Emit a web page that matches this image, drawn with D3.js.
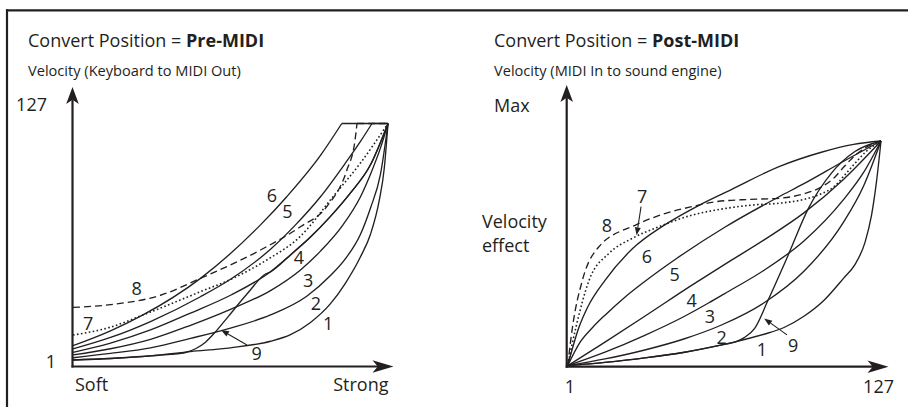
<!DOCTYPE html>
<html><head><meta charset="utf-8">
<script src="https://cdn.jsdelivr.net/npm/d3@7/dist/d3.min.js"></script>
<style>
html,body{margin:0;padding:0;background:#fff;}
svg{display:block;}
text{font-family:"Open Sans",sans-serif;font-size:18px;fill:#231f20;}
text.sub{font-size:14.6px;}
</style></head><body>
<svg id="chart" width="908" height="407"></svg>
<script>
// ---------------- DATA ----------------
const titlePrefix = "Convert Position = ";
const panelModes = ["Pre-MIDI", "Post-MIDI"];
const panelSubtitles = ["Velocity (Keyboard to MIDI Out)", "Velocity (MIDI In to sound engine)"];
const preAxisLabels = ["127", "1", "Soft", "Strong"];
const postAxisLabels = ["Max", "1", "127"];
const postYTitle = ["Velocity", "effect"];
const curveNames = ["1", "2", "3", "4", "5", "6", "7", "8", "9"];

// Pre-MIDI: [input strength (1-127), output velocity (1-127)]
const pre1 = [[1,1],[16,1.8],[32,3.2],[48,5.5],[64,7.5],[80,11],[88,14.5],[96,21],[104,31],[110,42],[116,56],[120,68],[123.5,86],[125.5,103],[127,127]];
const pre2 = [[1,2.2],[16,4.5],[32,7.5],[48,12.5],[64,18],[80,25],[94.5,35],[104,46],[110,55],[116,68],[120,82],[124,100],[127,127]];
const pre3 = [[1,3.7],[16,7],[32,12],[48,19.5],[64,28],[80,38],[92,49],[100,59],[109,73],[116,88],[120,100],[124,114],[127,127]];
const pre4 = [[1,5.1],[16,10],[32,17],[48,26],[64,35.5],[80,48],[88,57],[96,66.5],[104,77.5],[112,90],[120,105],[127,127]];
const pre5 = [[1,6.9],[16,13],[32,21.5],[52,34.7],[64,44],[80,60],[90,73],[100,88],[110,106],[116,117.5],[120.6,127],[127,127]];
const pre6 = [[1,8.6],[16,16.5],[29,25],[52,44.5],[76,73],[86.5,88],[100,110],[108.5,127],[127,127]];
const pre7 = [[1,14.3],[16,18.5],[29,25],[52,37.4],[65,44.5],[78.5,54.3],[91.8,66.7],[105,88],[116,106],[127,127]];
const pre8 = [[1,29],[16,30.5],[36,35.5],[52,44.5],[76,59.6],[92,72],[102.5,82.7],[110.5,102],[113.8,118],[114.6,127],[127,127]];
const pre9 = [[1,1],[16,1.8],[32,3.2],[40,4],[46,5],[50,7],[54,10.5],[58,16],[63,24],[70.5,36],[78,46.8],[80,48],[88,57],[96,66.5],[104,77.5],[112,90],[120,105],[127,127]];

// Post-MIDI: [input velocity (1-127), velocity effect (% of max)]
const post1 = [[1,0],[16,1.5],[32,3.5],[48,6],[64,9.5],[68.7,10.7],[80,14],[88,17],[96,22],[104,29],[112,39],[116.5,45],[120.6,55],[123.2,67],[125.2,82],[127,100]];
const post2 = [[1,0],[16,3],[32,7],[48,12],[62.6,18],[80,28],[96,42],[112,64],[120,80],[127,100]];
const post3 = [[1,0],[16,6],[32,13.5],[48,22],[57.8,28],[64,32],[80,42.5],[96,55.5],[112,74],[120,86],[127,100]];
const post4 = [[1,0],[16,10.5],[32,22],[50.5,35.5],[64,45],[80,56],[96,68],[112,83],[127,100]];
const post5 = [[1,0],[6,10.5],[11,17],[16,22.5],[24,30.5],[32,37.5],[44.5,47.5],[64,61.5],[86,75.2],[96,81],[112,91],[127,100]];
const post6 = [[1,0],[5.5,17],[9,26],[16,38],[27,52],[40.5,63],[54,71.5],[67,78.5],[86,88.6],[103,95],[116,98.5],[127,100]];
const post7 = [[1,0],[4.3,17],[9.6,38],[17.6,50],[27,56.7],[37.8,61.9],[51,67],[64.6,70],[75.3,71.5],[86,72.3],[96,74],[103,76.5],[108.5,80],[112.5,85],[116.5,90],[120.7,95],[127,100]];
const post8 = [[1,0],[2.9,17],[6.9,38],[13.6,53],[28.3,62.6],[40.4,67.8],[51,70.8],[60.6,73],[74,74],[86,74.5],[96,76.5],[103,79.5],[108.5,84],[112.5,89],[116.5,93.5],[120.7,97],[127,100]];
const post9 = [[1,0],[16,1.5],[32,3.5],[48,6],[64,9.5],[68.3,10.5],[72,12.5],[76.2,16.6],[81.6,29.2],[89.7,49.3],[97.8,70],[107,85.6],[116.5,95.3],[127,100]];

const preSeries = [pre1, pre2, pre3, pre4, pre5, pre6, pre7, pre8, pre9];
const postSeries = [post1, post2, post3, post4, post5, post6, post7, post8, post9];

// curve-number annotation anchors, in data units of each panel
const preLabelAt = [[103.1,20.6],[98.2,31.2],[95.1,43.6],[91.4,55.6],[86.8,80],[80.6,88.4],[7.1,20.6],[26.5,39.2],[74.5,4.6]];
const postLabelAt = [[79.1,7],[62.9,12.6],[58.2,21.8],[50.8,29.2],[44,40.4],[32.9,48.5],[30.9,75.2],[16.8,62.6],[91.7,9.2]];

// ---------------- DRAWING ----------------
const ink = "#231f20";
const svg = d3.select("#chart");
svg.append("rect").attr("width", 908).attr("height", 407).attr("fill", "#fff");

// frame
svg.append("line").attr("x1", 6).attr("x2", 908).attr("y1", 10.3).attr("y2", 10.3)
  .attr("stroke", ink).attr("stroke-width", 2.3);
svg.append("line").attr("x1", 7).attr("x2", 7).attr("y1", 9.2).attr("y2", 407)
  .attr("stroke", ink).attr("stroke-width", 2.2);

const dashFor = name => name === "7" ? "1.6,2.4" : (name === "8" ? "7,4" : null);

function arrowHead(g, x, y, dir, len, half) {
  let p;
  if (dir === "up") p = [[x, y], [x + half, y + len], [x, y + len * 0.75], [x - half, y + len]];
  else p = [[x, y], [x - len, y - half], [x - len * 0.75, y], [x - len, y + half]];
  g.append("path").attr("d", d3.line()(p) + "Z").attr("fill", ink);
}

function pointer(g, x1, y1, x2, y2) {
  const a = Math.atan2(y2 - y1, x2 - x1);
  const L = 8, H = 3;
  const bx = x2 - L * Math.cos(a), by = y2 - L * Math.sin(a);
  g.append("line").attr("x1", x1).attr("y1", y1).attr("x2", bx).attr("y2", by)
    .attr("stroke", ink).attr("stroke-width", 1.1);
  const p = [[x2, y2],
    [bx + H * Math.sin(a), by - H * Math.cos(a)],
    [bx - H * Math.sin(a), by + H * Math.cos(a)]];
  g.append("path").attr("d", d3.line()(p) + "Z").attr("fill", ink);
}

function drawSeries(g, data, x, y, cap, name) {
  let idx = data.findIndex(d => d[1] >= cap);
  if (idx < 0) idx = data.length - 1;
  const rising = data.slice(0, idx + 1);
  const flat = data.slice(idx);
  const dash = dashFor(name);
  const lineCurve = d3.line().x(d => x(d[0])).y(d => y(d[1])).curve(d3.curveMonotoneX);
  g.append("path").datum(rising).attr("d", lineCurve)
    .attr("fill", "none").attr("stroke", ink).attr("stroke-width", name === "7" ? 1.6 : 1.35)
    .attr("stroke-dasharray", dash).attr("stroke-linejoin", "round");
  if (flat.length > 1) {
    g.append("path").datum(flat).attr("d", d3.line().x(d => x(d[0])).y(d => y(d[1])))
      .attr("fill", "none").attr("stroke", ink).attr("stroke-width", 1.35)
      .attr("stroke-dasharray", dash);
  }
}

function titleBlock(g, x0, mode, sub) {
  const t = g.append("text").attr("x", x0).attr("y", 46.5);
  t.append("tspan").text(titlePrefix);
  t.append("tspan").attr("font-weight", "bold").text(mode);
  g.append("text").attr("class", "sub").attr("x", x0).attr("y", 76).text(sub);
}

// ---- Left panel (Pre-MIDI)
{
  const g = svg.append("g");
  const x = d3.scaleLinear().domain([1, 127]).range([73, 388]);
  const y = d3.scaleLinear().domain([1, 127]).range([360, 123.5]);
  const ax = 72.5, ay = 366.5;
  titleBlock(g, 28, panelModes[0], panelSubtitles[0]);
  g.append("line").attr("x1", ax).attr("x2", ax).attr("y1", ay + 1).attr("y2", 100)
    .attr("stroke", ink).attr("stroke-width", 2.2);
  arrowHead(g, ax, 87, "up", 17, 6.3);
  g.append("line").attr("x1", ax - 1).attr("x2", 378).attr("y1", ay).attr("y2", ay)
    .attr("stroke", ink).attr("stroke-width", 2.2);
  arrowHead(g, 393.5, ay, "right", 21, 6.3);
  g.append("text").attr("x", 47).attr("y", 110.5).attr("text-anchor", "end").text(preAxisLabels[0]);
  g.append("text").attr("x", 56).attr("y", 368).attr("text-anchor", "end").text(preAxisLabels[1]);
  g.append("text").attr("x", 75).attr("y", 391).text(preAxisLabels[2]);
  g.append("text").attr("x", 388.5).attr("y", 391).attr("text-anchor", "end").text(preAxisLabels[3]);
  preSeries.forEach((s, i) => drawSeries(g, s, x, y, 127, curveNames[i]));
  preLabelAt.forEach((p, i) => g.append("text").attr("x", x(p[0])).attr("y", y(p[1]) + 6.5)
    .attr("text-anchor", "middle").text(curveNames[i]));
  pointer(g, x(70.6), y(9), x(60.2), y(17));
}

// ---- Right panel (Post-MIDI)
{
  const g = svg.append("g");
  const x = d3.scaleLinear().domain([1, 127]).range([567.7, 881]);
  const y = d3.scaleLinear().domain([0, 100]).range([365.7, 141]);
  const ax = 566.7, ay = 366.7;
  titleBlock(g, 494, panelModes[1], panelSubtitles[1]);
  g.append("line").attr("x1", ax).attr("x2", ax).attr("y1", ay + 1).attr("y2", 98)
    .attr("stroke", ink).attr("stroke-width", 2.2);
  arrowHead(g, ax, 85, "up", 17, 6.3);
  g.append("line").attr("x1", ax - 1).attr("x2", 873).attr("y1", ay).attr("y2", ay)
    .attr("stroke", ink).attr("stroke-width", 2.2);
  arrowHead(g, 888.5, ay, "right", 21, 6.3);
  g.append("text").attr("x", 494).attr("y", 112).text(postAxisLabels[0]);
  g.append("text").attr("x", 570).attr("y", 393).attr("text-anchor", "middle").text(postAxisLabels[1]);
  g.append("text").attr("x", 894).attr("y", 393).attr("text-anchor", "end").text(postAxisLabels[2]);
  g.append("text").attr("x", 482).attr("y", 228).text(postYTitle[0]);
  g.append("text").attr("x", 482).attr("y", 252).text(postYTitle[1]);
  postSeries.forEach((s, i) => drawSeries(g, s, x, y, 100, curveNames[i]));
  postLabelAt.forEach((p, i) => g.append("text").attr("x", x(p[0])).attr("y", y(p[1]) + 6.5)
    .attr("text-anchor", "middle").text(curveNames[i]));
  pointer(g, x(89.2), y(13.7), x(80), y(21));
  pointer(g, x(30.5), y(70.8), x(28.7), y(58));
}
</script>
</body></html>
